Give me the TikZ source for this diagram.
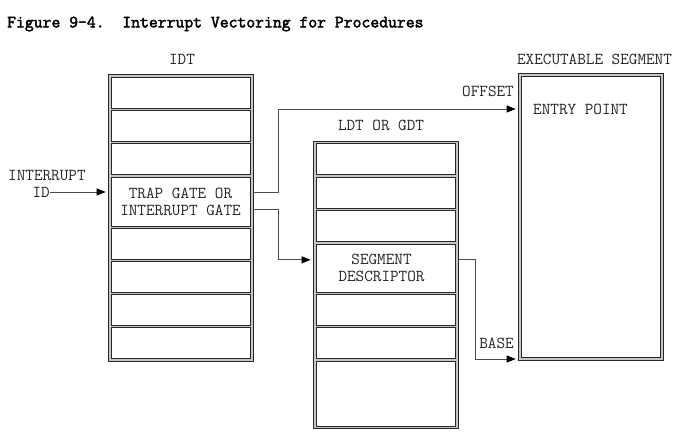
\documentclass[tikz,border=0pt]{standalone}
\usepackage{fontspec}
\setmainfont{Latin Modern Mono}
\newfontfamily\titlefont{Latin Modern Mono}[FakeBold=2.5]
\usetikzlibrary{arrows.meta}
\tikzset{
  tbl/.style={draw=black!85, fill=gray!45, line width=0.7pt, minimum width=145pt, minimum height=287pt, inner sep=0pt},
  cell/.style={draw=black!85, fill=white, line width=0.7pt, minimum width=139pt, inner sep=0pt, anchor=north},
  lbl/.style={font=\fontsize{16.7}{17}\selectfont, inner sep=0pt, text=black!85},
  conn/.style={draw=black!70, line width=0.8pt, shorten >=2pt, -{Triangle[length=9pt,width=7pt,color=black]}}
}
\begin{document}
\begin{tikzpicture}[x=1pt,y=-1pt]
\useasboundingbox (0,0) rectangle (686,438);
\node[lbl, anchor=west, font=\fontsize{17.2}{17}\titlefont, text=black] (title) at (7,24) {Figure 9-4.\ \ Interrupt Vectoring for Procedures};

\node[tbl] (idt) at (180.5,217.5) {};
\node[lbl] (idtname) at (182,59.5) {IDT};
\foreach \y [count=\i] in {77,110,143,228,261,294,327}
  \node[cell, minimum height=31pt] (idt\i) at (180.5,\y) {};
\node[cell, minimum height=49pt] (trap) at (180.5,177) {};
\node[lbl, align=center] (traptxt) at (trap) {TRAP GATE OR\\INTERRUPT GATE};
\node[lbl, anchor=west] (intr) at (8,176) {INTERRUPT};
\node[lbl, anchor=east] (intid) at (50,192) {ID};

\node[tbl] (ldt) at (385.5,284.5) {};
\node[lbl] (ldtname) at (381,125.5) {LDT OR GDT};
\foreach \y/\h [count=\i] in {143/31,177/31,210/31,294/31,327/31,361/65}
  \node[cell, minimum height=\h pt] (ldt\i) at (385.5,\y) {};
\node[cell, minimum height=48pt] (desc) at (385.5,244) {};
\node[lbl, align=center] (desctxt) at ([xshift=-4pt]desc.center) {SEGMENT\\DESCRIPTOR};

\node[tbl] (exec) at (590.5,216.5) {};
\node[cell, minimum height=281pt] (execin) at (590.5,76) {};
\node[lbl] (execname) at (594.5,59) {EXECUTABLE SEGMENT};
\node[lbl, anchor=west] (entry) at (533,109) {ENTRY POINT};
\node[lbl, anchor=east] (offset) at (514,91.5) {OFFSET};
\node[lbl] (base) at (496.5,343) {BASE};

\coordinate (jog) at (278,0);
\coordinate (bend) at (475,359);
\coordinate (gtop) at ([yshift=9.5pt]trap.east);
\coordinate (gbot) at ([yshift=-7.5pt]trap.east);
\coordinate (dtop) at ([yshift=8.5pt]desc.east);

\draw[conn] (intid.east) -- (intid.east -| idt.west);
\draw[conn] (gtop -| idt.east) -| (jog |- entry) -- (entry -| exec.west);
\draw[conn] (gbot -| idt.east) -| (jog |- dtop) -- (dtop -| ldt.west);
\draw[conn] (dtop -| ldt.east) -| (bend) -- (bend -| exec.west);
\end{tikzpicture}
\end{document}
